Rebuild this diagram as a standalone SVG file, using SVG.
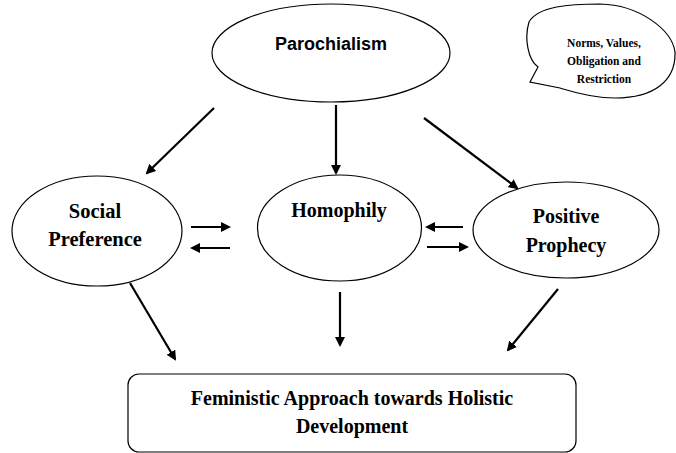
<svg xmlns="http://www.w3.org/2000/svg" width="676" height="453" viewBox="0 0 676 453">
<defs>
<marker id="ah" markerWidth="10" markerHeight="10" refX="8" refY="5" orient="auto" markerUnits="userSpaceOnUse" viewBox="0 0 10 10">
<path d="M0,0 L10,5 L0,10 Z" fill="#000"/>
</marker>
<style>
.shape{fill:#fff;stroke:#000;stroke-width:1.2}
.serif{font-family:"Liberation Serif","Times New Roman",serif;font-weight:bold;fill:#000;text-anchor:middle}
.sans{font-family:"Liberation Sans",Arial,sans-serif;font-weight:bold;fill:#000;text-anchor:middle}
.conn line{stroke:#000;stroke-width:2.2;marker-end:url(#ah)}
</style>
</defs>
<rect width="676" height="453" fill="#fff"/>
<g id="parochialism">
<ellipse class="shape" cx="331" cy="53" rx="119" ry="49"/>
<text class="sans" x="331" y="50" font-size="18">Parochialism</text>
</g>
<g id="norms">
<path class="shape" d="M529,22 C538,6 570,4 600,4 C640,5 672,30 675,52 C676,80 655,98 615,98 C590,98 570,91 560,88 L530,82 L538,67 C528,60 524,38 529,22 Z"/>
<text class="serif" x="604" y="47" font-size="11.5">Norms, Values,</text>
<text class="serif" x="604" y="65" font-size="11.5">Obligation and</text>
<text class="serif" x="604" y="83" font-size="11.5">Restriction</text>
</g>
<g id="social">
<ellipse class="shape" cx="97" cy="231" rx="85" ry="55"/>
<text class="serif" x="95" y="218" font-size="20.5">Social</text>
<text class="serif" x="95" y="246" font-size="20.5">Preference</text>
</g>
<g id="homophily">
<ellipse class="shape" cx="339.5" cy="228" rx="82" ry="53"/>
<text class="serif" x="339" y="217" font-size="20">Homophily</text>
</g>
<g id="prophecy">
<ellipse class="shape" cx="566" cy="230" rx="93" ry="48"/>
<text class="serif" x="566" y="223" font-size="20">Positive</text>
<text class="serif" x="566" y="252" font-size="20">Prophecy</text>
</g>
<g id="feministic">
<rect class="shape" x="128" y="374" width="448" height="78" rx="11"/>
<text class="serif" x="352" y="405" font-size="20">Feministic Approach towards Holistic</text>
<text class="serif" x="352" y="433" font-size="20">Development</text>
</g>
<g class="conn" id="connectors">
<line x1="214" y1="108" x2="147" y2="173"/>
<line x1="336" y1="105" x2="336" y2="173"/>
<line x1="424" y1="118" x2="517" y2="188"/>
<line x1="191" y1="227" x2="229" y2="227"/>
<line x1="230" y1="248" x2="192" y2="248"/>
<line x1="463" y1="227" x2="427" y2="227"/>
<line x1="427" y1="247" x2="467" y2="247"/>
<line x1="130" y1="283" x2="175" y2="359"/>
<line x1="340" y1="292" x2="340" y2="345"/>
<line x1="558" y1="289" x2="508" y2="350"/>
</g>
</svg>
